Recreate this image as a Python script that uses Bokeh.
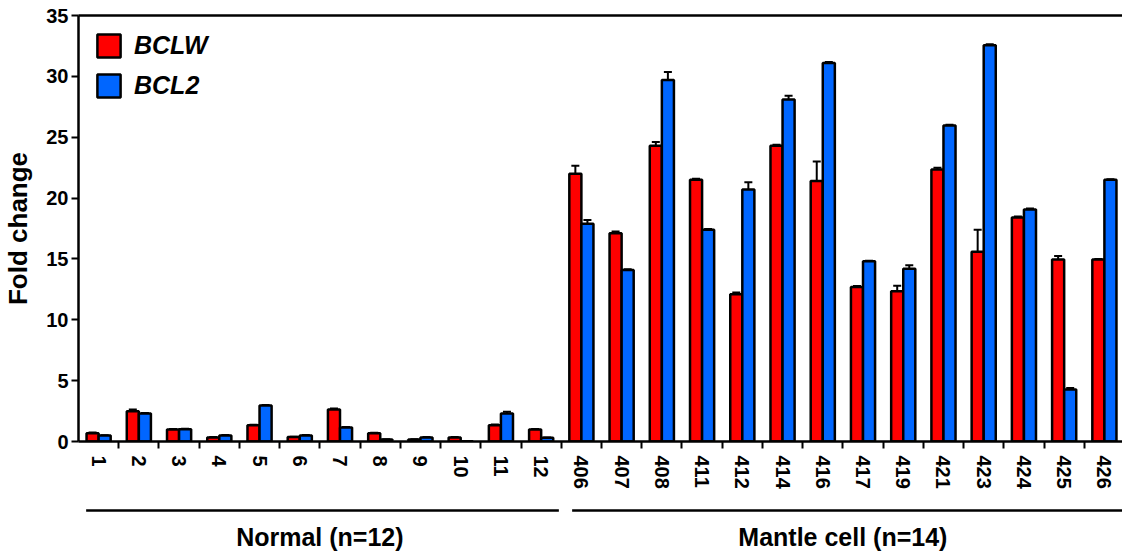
from bokeh.plotting import figure
from bokeh.models import (ColumnDataSource, Range1d, FixedTicker, LinearAxis,
                          Whisker, TeeHead, Legend, LegendItem)
from bokeh.core.properties import value
from bokeh.layouts import column
from bokeh.embed import file_html
from bokeh.resources import INLINE

# Sample identifiers
normal_ids = ["1", "2", "3", "4", "5", "6", "7", "8", "9", "10", "11", "12"]
mantle_ids = ["406", "407", "408", "411", "412", "414", "416", "417", "419",
              "421", "423", "424", "425", "426"]
samples = normal_ids + mantle_ids

# Fold change (mean) and error for each gene
bclw = [0.68, 2.49, 0.99, 0.33, 1.34, 0.36, 2.63, 0.68, 0.16, 0.33, 1.34, 0.99,
        22.0, 17.1, 24.3, 21.5, 12.1, 24.3, 21.4, 12.7, 12.35, 22.35, 15.6,
        18.4, 14.95, 14.95]
bclw_err = [0.05, 0.13, 0.04, 0.04, 0.04, 0.04, 0.08, 0.04, 0.03, 0.03, 0.05, 0.04,
            0.65, 0.15, 0.3, 0.08, 0.15, 0.08, 1.6, 0.08, 0.45, 0.15, 1.8,
            0.08, 0.3, 0.05]
bcl2 = [0.49, 2.3, 1.0, 0.49, 2.96, 0.49, 1.15, 0.16, 0.33, 0.03, 2.3, 0.3,
        17.9, 14.1, 29.7, 17.4, 20.7, 28.1, 31.1, 14.8, 14.19, 25.97, 32.55,
        19.06, 4.27, 21.5]
bcl2_err = [0.03, 0.04, 0.04, 0.04, 0.04, 0.04, 0.04, 0.03, 0.04, 0.02, 0.15, 0.03,
            0.3, 0.05, 0.65, 0.05, 0.6, 0.3, 0.08, 0.05, 0.3, 0.05, 0.08,
            0.08, 0.12, 0.05]

groups = [("Normal (n=12)", len(normal_ids)), ("Mantle cell (n=14)", len(mantle_ids))]

FONT = "Liberation Sans"
RED = "#FF0000"
BLUE = "#0066FF"
BAR_W = 0.3

idx = list(range(len(samples)))
src = ColumnDataSource(dict(
    xr=[i - BAR_W / 2 for i in idx],
    xb=[i + BAR_W / 2 for i in idx],
    red=bclw, red_hi=[v + e for v, e in zip(bclw, bclw_err)],
    blue=bcl2, blue_hi=[v + e for v, e in zip(bcl2, bcl2_err)],
))

p = figure(width=1122, height=501, x_range=Range1d(-0.5, len(samples) - 0.55),
           y_range=Range1d(0, 35), toolbar_location=None, output_backend="svg",
           min_border_left=78, min_border_right=0, min_border_top=15,
           min_border_bottom=60)
p.outline_line_color = None
p.xgrid.visible = False
p.ygrid.visible = False

r_red = p.vbar(x="xr", top="red", width=BAR_W, source=src, fill_color=RED,
               line_color="black", line_width=2.5)
r_blue = p.vbar(x="xb", top="blue", width=BAR_W, source=src, fill_color=BLUE,
                line_color="black", line_width=2.5)

for lo, hi, xcol in (("red", "red_hi", "xr"), ("blue", "blue_hi", "xb")):
    p.add_layout(Whisker(source=src, base=xcol, lower=lo, upper=hi,
                         dimension="height", line_width=2, line_color="black",
                         upper_head=TeeHead(size=8, line_width=2, line_color="black"),
                         lower_head=None))

# y axis
yax = p.yaxis[0]
yax.ticker = FixedTicker(ticks=list(range(0, 36, 5)))
yax.axis_label = "Fold change"
yax.axis_label_text_font = FONT
yax.axis_label_text_font_size = "26px"
yax.axis_label_text_font_style = "bold"
yax.axis_label_text_color = "black"
yax.axis_label_standoff = 10
yax.major_label_text_font = FONT
yax.major_label_text_font_size = "20px"
yax.major_label_text_font_style = "bold"
yax.major_label_text_color = "black"
yax.major_label_standoff = 3
yax.major_tick_in = 0
yax.major_tick_out = 7
yax.major_tick_line_width = 2
yax.minor_tick_line_color = None
yax.axis_line_width = 2.5
yax.axis_line_color = "black"

# x axis: labels at sample centres, ticks at boundaries between samples
xax = p.xaxis[0]
xax.ticker = FixedTicker(ticks=idx, minor_ticks=[i + 0.5 for i in idx[:-1]])
xax.major_label_overrides = {i: s for i, s in enumerate(samples)}
xax.major_label_orientation = "vertical"
xax.major_label_text_font = FONT
xax.major_label_text_font_size = "20px"
xax.major_label_text_font_style = "bold"
xax.major_label_text_color = "black"
xax.major_label_standoff = 7
xax.major_tick_line_color = None
xax.major_tick_in = 0
xax.major_tick_out = 7
xax.minor_tick_in = 0
xax.minor_tick_out = 7
xax.minor_tick_line_width = 2
xax.minor_tick_line_color = "black"
xax.axis_line_width = 2.5
xax.axis_line_color = "black"

# top border line
top = LinearAxis(ticker=FixedTicker(ticks=[]), major_tick_in=0, major_tick_out=0,
                 minor_tick_in=0, minor_tick_out=0, major_label_text_font_size="0px",
                 axis_line_width=2.5, axis_line_color="black")
p.add_layout(top, "above")

legend = Legend(items=[LegendItem(label="BCLW", renderers=[r_red]),
                       LegendItem(label="BCL2", renderers=[r_blue])],
                location="top_left", margin=16, padding=9, spacing=11,
                glyph_width=29, glyph_height=29, label_height=29, label_standoff=11,
                label_text_font=FONT, label_text_font_size="25px",
                label_text_font_style="bold italic", label_text_color="black",
                border_line_color=None, background_fill_alpha=0)
p.add_layout(legend)

# group brackets below the sample labels
q = figure(width=1122, height=53, x_range=p.x_range, y_range=Range1d(0, 53),
           toolbar_location=None, output_backend="svg", x_axis_type=None,
           y_axis_type=None, min_border_left=78, min_border_right=0,
           min_border_top=0, min_border_bottom=0)
q.outline_line_color = None
q.xgrid.visible = False
q.ygrid.visible = False

starts, ends, names, mids = [], [], [], []
pos = 0
for gi, (name, n) in enumerate(groups):
    starts.append(pos - 0.5 + (0.19 if gi == 0 else 0.27))
    ends.append(pos + n - 0.5 - (0.06 if gi == 0 else -0.5))
    mids.append(pos + (n - 1) / 2)
    names.append(name)
    pos += n

q.segment(x0=starts, x1=ends, y0=44, y1=44, line_color="black", line_width=2.5)
q.text(x=mids, y=18, text=names, text_align="center", text_baseline="middle",
       text_font=value(FONT), text_font_size="25px", text_font_style="bold",
       text_color="black")

layout = column(p, q, spacing=0)
open("out.html", "w").write(file_html(layout, INLINE))
